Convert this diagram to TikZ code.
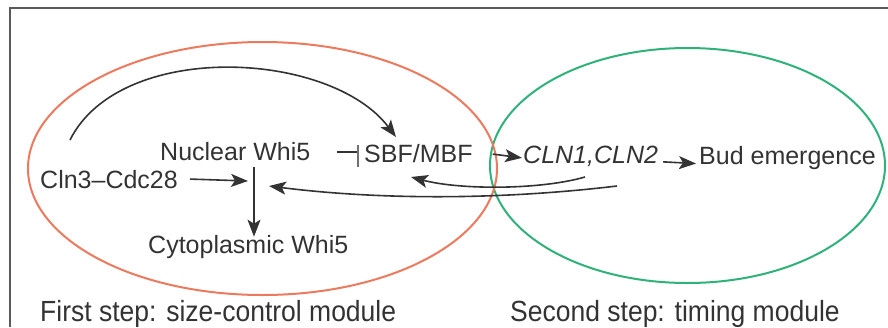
\documentclass[tikz,border=0pt]{standalone}
\usepackage{fontspec}
\setmainfont{Liberation Sans}
\usetikzlibrary{arrows.meta}
\definecolor{ink}{HTML}{333333}
\definecolor{frameg}{HTML}{5A5A5A}
\definecolor{sizered}{HTML}{EC7A5E}
\definecolor{timegreen}{HTML}{2FB27A}
\tikzset{
  lbl/.style={inner sep=0pt, anchor=base west, text=ink, font=\fontsize{25}{30}\selectfont},
  caption/.style={inner sep=0pt, anchor=base west, text=ink, font=\fontsize{26.5}{32}\selectfont},
  arr/.style={draw=ink, line width=1.6pt, -{Stealth[length=17pt,width=13pt,inset=4pt]}},
  plain/.style={draw=ink, line width=1.6pt},
  module/.style={line width=2pt},
}
\begin{document}
\begin{tikzpicture}[x=1pt,y=-1pt]
\useasboundingbox (0,0) rectangle (888,327);
% frame (left and top edges)
\draw[frameg, line width=2pt] (10,327) -- (10,8) -- (888,8);

% the two modules
\draw[module, timegreen] (687.5,165.5) ellipse [x radius=197.5, y radius=117.5];
\draw[module, sizered] (262.5,168.5) ellipse [x radius=234.5, y radius=126.5];

% labels
\node[lbl] (nuc)  at (160,160) {Nuclear Whi5};
\node[lbl] (cln3) at (40,188)  {Cln3–Cdc28};
\node[lbl] (cyto) at (148,253) {Cytoplasmic Whi5};
\node[lbl] (sbf)  at (364,162) {SBF/MBF};
\node[lbl] (cln)  at (523,163) {\itshape CLN1,CLN2};
\node[lbl] (bud)  at (699,164) {Bud emergence};

\node[caption] (first)  at (40,321)  {\scalebox{1}[1.1]{First step: size-control module}};
\node[caption] (second) at (510,321) {\scalebox{1}[1.1]{Second step: timing module}};

% free ends of the connectors
\coordinate (vtop)  at (254,167);
\coordinate (jn)    at (248,181);
\coordinate (c1s)   at (70,140);
\coordinate (c1e)   at (396,137);
\coordinate (c2s)   at (585,177);
\coordinate (c2e)   at (411,177);
\coordinate (c3s)   at (617,186);
\coordinate (c3e)   at (269,186);
\coordinate (inhS)  at (337,152);
\coordinate (inhB)  at (358,152);

% Cln3-Cdc28 acts on the Whi5 transfer
\draw[arr] ([xshift=12pt]cln3.east) -- (jn);
\draw[arr] (vtop) -- ([yshift=-2pt]cyto.north -| vtop);

% Whi5 inhibits SBF/MBF
\draw[plain] (inhS) -- (inhB);
\draw[draw=ink!70, line width=1.4pt] (358,145) -- (358,167);

% SBF/MBF -> CLN1,CLN2 -> Bud emergence
\draw[arr] ([xshift=20pt,yshift=-1pt]sbf.east) -- ([xshift=-1pt,yshift=-2pt]cln.west);
\draw[arr] ([xshift=5pt,yshift=-6pt]cln.east) -- ([xshift=-3pt,yshift=-6pt]bud.west);

% feedback and direct arcs
\draw[arr] (c1s) .. controls (120,40) and (330,50) .. (c1e);
\draw[arr] (c2s) .. controls (540,190) and (460,190) .. (c2e);
\draw[arr] (c3s) .. controls (500,200) and (380,200) .. (c3e);
\end{tikzpicture}
\end{document}
